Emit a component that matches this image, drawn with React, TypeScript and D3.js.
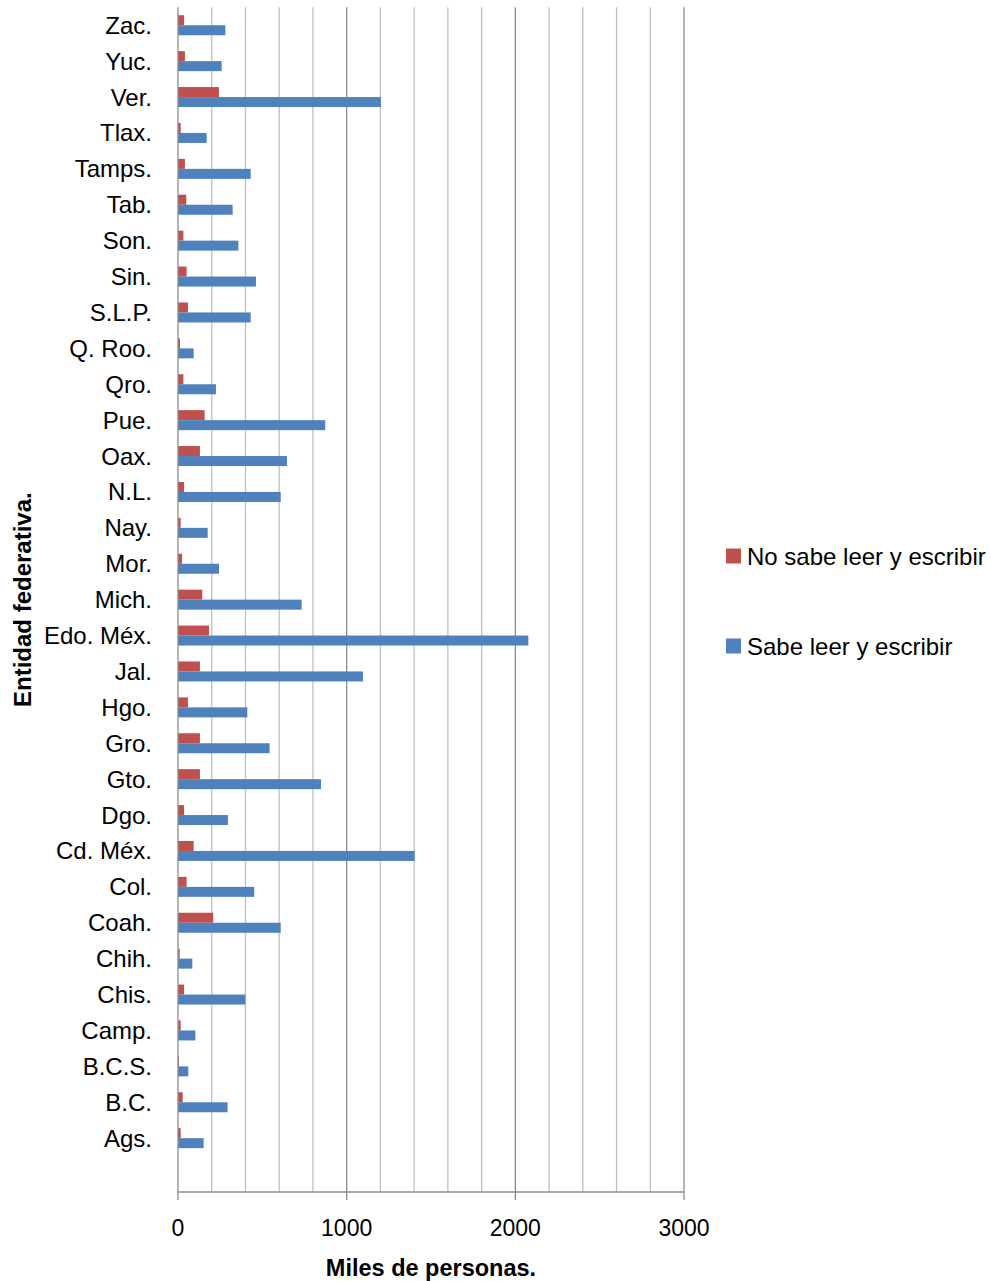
import React from "react";
import * as d3 from "d3";

const categories = [
  "Zac.", "Yuc.", "Ver.", "Tlax.", "Tamps.", "Tab.", "Son.", "Sin.", "S.L.P.",
  "Q. Roo.", "Qro.", "Pue.", "Oax.", "N.L.", "Nay.", "Mor.", "Mich.", "Edo. Méx.",
  "Jal.", "Hgo.", "Gro.", "Gto.", "Dgo.", "Cd. Méx.", "Col.", "Coah.", "Chih.",
  "Chis.", "Camp.", "B.C.S.", "B.C.", "Ags.",
];
const noSabe = [
  36, 41, 243, 16, 41, 49, 32, 51, 59,
  12, 32, 158, 130, 36, 16, 24, 144, 184,
  130, 59, 130, 130, 36, 93, 51, 209, 10,
  36, 16, 6, 28, 16,
];
const sabe = [
  281, 259, 1203, 170, 431, 324, 358, 462, 431,
  93, 225, 873, 646, 609, 176, 243, 733, 2077,
  1097, 411, 543, 848, 296, 1403, 452, 609, 85,
  399, 103, 61, 294, 152,
];
const seriesNames = ["No sabe leer y escribir", "Sabe leer y escribir"];
const seriesColors = ["#C0504D", "#4F81BD"];
const xTicks = [0, 1000, 2000, 3000];

const W = 991, H = 1281;
const left = 178, right = 684, top = 7.3, bottom = 1192;
const FONT = "'Liberation Sans', Arial, sans-serif";

export default function App() {
  const x = d3.scaleLinear().domain([0, 3000]).range([left, right]);
  const domain = [...categories, ""];
  const y = d3.scaleBand<string>().domain(domain).range([top, bottom]).paddingInner(0.443).paddingOuter(0.2215);
  const ySub = d3.scaleBand<number>().domain([0, 1]).range([0, y.bandwidth()]);
  const gridVals = d3.range(200, 3001, 200);
  const data = [noSabe, sabe];

  return (
    <svg width={W} height={H} style={{ position: "absolute", left: 0, top: 0, background: "#fff" }}>
      {gridVals.map((v) => (
        <line key={v} x1={x(v)} x2={x(v)} y1={top} y2={bottom}
          stroke={v % 1000 === 0 ? "#8c8c8c" : "#bfbfbf"} strokeWidth={1.3} />
      ))}
      {categories.map((c, i) => (
        <g key={c}>
          {data.map((s, k) => (
            <rect key={k} x={x(0)} y={(y(c) as number) + (ySub(k) as number)}
              width={x(s[i]) - x(0)} height={ySub.bandwidth()}
              fill={seriesColors[k]} />
          ))}
          <text x={152} y={(y(c) as number) + y.bandwidth() / 2} textAnchor="end"
            dominantBaseline="central" fontFamily={FONT} fontSize={24} fill="#000">{c}</text>
        </g>
      ))}
      <line x1={left} x2={left} y1={top} y2={bottom} stroke="#8c8c8c" strokeWidth={1.3} />
      <line x1={left} x2={right} y1={bottom} y2={bottom} stroke="#8c8c8c" strokeWidth={1.3} />
      {xTicks.map((t) => (
        <g key={t}>
          <line x1={x(t)} x2={x(t)} y1={bottom} y2={bottom + 8} stroke="#8c8c8c" strokeWidth={1.3} />
          <text x={x(t)} y={1228} textAnchor="middle" dominantBaseline="central"
            fontFamily={FONT} fontSize={23} fill="#000">{t}</text>
        </g>
      ))}
      <text x={(left + right) / 2} y={1268} textAnchor="middle" dominantBaseline="central"
        fontFamily={FONT} fontSize={23.5} fontWeight="bold" fill="#000">Miles de personas.</text>
      <text transform={`translate(22, ${(top + bottom) / 2}) rotate(-90)`} textAnchor="middle"
        dominantBaseline="central" fontFamily={FONT} fontSize={24} fontWeight="bold" fill="#000">Entidad federativa.</text>
      {seriesNames.map((n, k) => (
        <g key={n} transform={`translate(726, ${k === 0 ? 548.5 : 638.5})`}>
          <rect x={0} y={0} width={15} height={15} fill={seriesColors[k]} />
          <text x={21} y={8} dominantBaseline="central" fontFamily={FONT} fontSize={24} fill="#000">{n}</text>
        </g>
      ))}
    </svg>
  );
}
